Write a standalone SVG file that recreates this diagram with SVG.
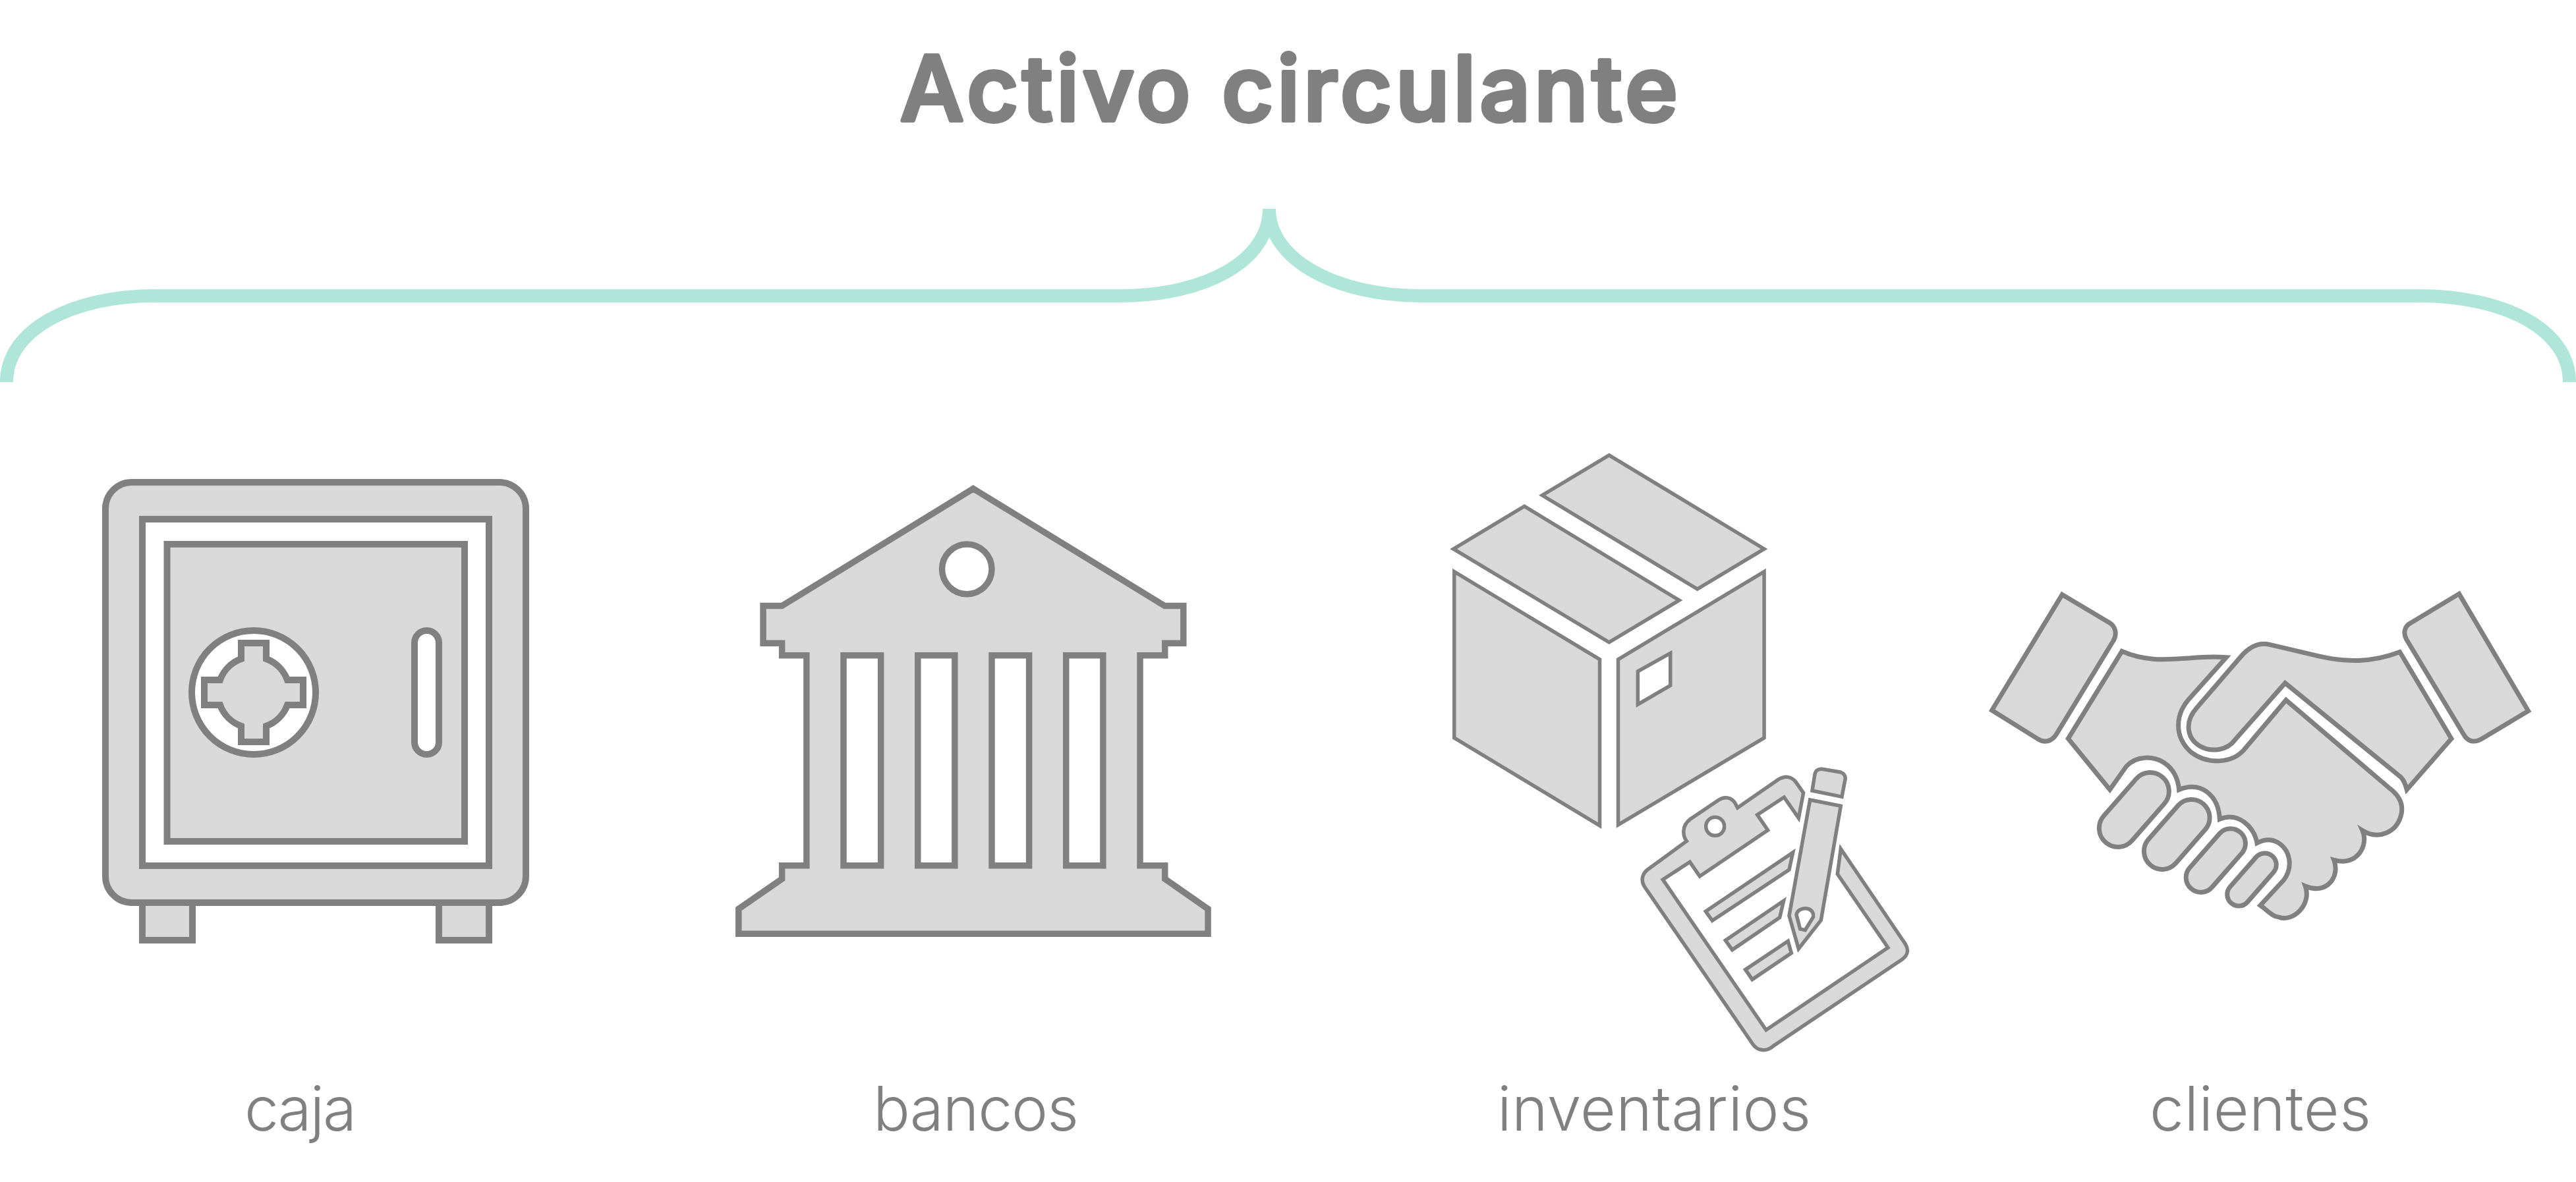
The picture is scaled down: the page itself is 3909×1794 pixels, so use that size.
<svg xmlns="http://www.w3.org/2000/svg" width="3909" height="1794" viewBox="0 0 3909 1794">
<style>
.f{fill:#d9d9d9;stroke:#808080;stroke-miterlimit:8;vector-effect:non-scaling-stroke}
.w{fill:#fff;stroke:#808080;stroke-miterlimit:8;vector-effect:non-scaling-stroke}
.s10 *{stroke-width:10}
.s9 *{stroke-width:9.5}
.s55 *{stroke-width:5.5}
.s7 *{stroke-width:7}
.lbl{font-family:"Inter","Liberation Sans",sans-serif;font-size:93px;font-weight:350;fill:#808080}
.ttl{font-family:"Inter","Liberation Sans",sans-serif;font-size:136px;font-weight:500;fill:#808080;stroke:#808080;stroke-width:6;stroke-linejoin:round}
</style>
<rect width="3909" height="1794" fill="#fff"/>
<g id="title"><text class="ttl" x="1366" y="183" textLength="1180" lengthAdjust="spacing">Activo circulante</text></g>
<g id="connectors">
<path d="M10 580C10 500 110 449 235 449L1700 449C1830 449 1926 395 1926 317C1926 395 2030 449 2155 449L3670 449C3800 449 3899 500 3899 580" fill="none" stroke="#b0e6d9" stroke-width="20"/>
</g>
<g id="caja" class="s10">
<rect class="f" x="216" y="1360" width="76" height="67"/>
<rect class="f" x="666" y="1360" width="76" height="67"/>
<rect class="f" x="160" y="732" width="638" height="638" rx="40"/>
<rect class="w" x="216" y="788" width="526" height="526"/>
<rect class="f" x="253.500" y="826" width="451.500" height="451"/>
<circle class="w" cx="385" cy="1051" r="94"/>
<path class="f" d="M366 1000L366 976L404 976L404 1000A54 54 0 0 1 436 1032L460 1032L460 1070L436 1070A54 54 0 0 1 404 1102L404 1126L366 1126L366 1102A54 54 0 0 1 334 1070L310 1070L310 1032L334 1032A54 54 0 0 1 366 1000Z"/>
<rect class="w" x="629" y="957" width="37" height="188" rx="18.500"/>
<text class="lbl" x="371" y="1716" textLength="170" lengthAdjust="spacing">caja</text>
</g>
<g id="bancos">
<g class="s9" transform="translate(1080 700) scale(.5102 .4847)">
<path class="f" d="M778 86L1347 453L1403 453L1403 570L1348 570L1348 608L1274 608L1274 1266L1348 1266L1348 1308L1476 1402L1476 1480L80 1480L80 1402L209 1308L209 1266L282 1266L282 608L209 608L209 570L153 570L153 453L209 453Z"/>
<ellipse class="w" cx="759" cy="338" rx="74" ry="78"/>
<rect class="w" x="392" y="608" width="111" height="658"/>
<rect class="w" x="613" y="608" width="110" height="658"/>
<rect class="w" x="833" y="608" width="111" height="658"/>
<rect class="w" x="1054" y="608" width="110" height="658"/>
</g>
<text class="lbl" x="1325" y="1716" textLength="312" lengthAdjust="spacing">bancos</text>
</g>
<g id="inventarios">
<g class="s55" transform="translate(2170 660) scale(.3827 .3954)">
<path class="f" d="M710 78L1325 438L1060 592L445 232Z"/>
<path class="f" d="M374 274L988 635L710 796L93 438Z"/>
<path class="f" d="M96 525L96 1163L673 1500L673 862Z"/>
<path class="f" d="M746 862L1325 525L1325 1163L746 1497Z"/>
<path class="w" d="M824 908L953 838L953 962L824 1035Z"/>
</g>
<g class="s55" transform="translate(2470 1140) scale(.3333)">
<path class="f" d="M268 410C250 385 245 340 285 310L415 222C440 205 470 210 488 235L500 258L685 130C715 110 745 115 765 140L800 190L778 305L712 210L590 290L638 360L328 570L283 505L160 585L630 1270L1185 895L955 560L970 445L1265 880C1280 905 1275 930 1250 948L660 1345C630 1370 590 1365 570 1335L75 615C60 590 65 560 90 540Z"/>
<circle class="w" cx="398" cy="343" r="42"/>
<path class="f" d="M355 730L752 462L735 540L385 772Z"/>
<path class="f" d="M445 862L710 682L692 758L476 905Z"/>
<path class="f" d="M536 995L730 865L745 920L567 1040Z"/>
<path class="f" d="M840 180L852 105C855 88 870 80 885 82L965 95C985 100 993 115 990 130L975 208Z"/>
<path class="f" d="M830 222L970 250L880 770L778 900L735 750Z"/>
<path class="w" d="M768 745C775 705 850 705 845 755L808 815L785 810Z"/>
</g>
<text class="lbl" x="2272" y="1716" textLength="476" lengthAdjust="spacing">inventarios</text>
</g>
<g id="clientes">
<g class="s7" transform="translate(3000 880) scale(.3333 .3444)">
<path class="f" d="M388 65L605 190C630 205 640 240 620 270L362 680C340 715 305 720 275 700L68 575Z"/>
<path class="f" d="M2195 62L2510 578L2300 700C2265 720 2235 715 2215 680L1955 262C1940 235 1945 205 1975 190Z"/>
<path class="f" d="M1925 318C1800 365 1680 365 1550 335L1330 285C1280 275 1240 295 1200 340L1000 565C945 625 955 695 1010 730C1070 765 1140 750 1175 705L1403 455L1930 870C1945 885 1950 900 1957 925L2160 700Z"/>
<path class="f" d="M660 315C780 365 880 350 970 345C1030 340 1080 338 1135 342L975 515C900 590 895 690 975 760C1050 815 1160 810 1215 750L1407 530L1880 920C1920 950 1945 990 1930 1040C1910 1110 1830 1150 1755 1105C1785 1170 1730 1265 1625 1235C1655 1310 1590 1390 1495 1350C1525 1430 1440 1510 1375 1487C1345 1485 1320 1455 1290 1435L1395 1325C1440 1270 1430 1190 1365 1155C1335 1140 1305 1145 1275 1160C1262 1090 1190 1020 1105 1055C1100 950 1020 885 920 925C915 870 890 830 850 805C800 775 725 775 680 822L605 925L415 700Z"/>
</g>
<g class="s7">
<rect class="f" x="-65.700" y="-28.500" width="131.400" height="57" rx="28.500" transform="translate(3238.400 1229) rotate(-48.800)"/>
<rect class="f" x="-61.400" y="-27.500" width="122.800" height="55" rx="27.500" transform="translate(3303.300 1266.500) rotate(-48.800)"/>
<rect class="f" x="-56.800" y="-22.500" width="113.600" height="45" rx="22.500" transform="translate(3362.300 1306) rotate(-48.800)"/>
<rect class="f" x="-47.500" y="-17.500" width="95" height="35" rx="17.500" transform="translate(3417 1335) rotate(-48.800)"/>
</g>
<text class="lbl" x="3262" y="1716" textLength="336" lengthAdjust="spacing">clientes</text>
</g>
</svg>
